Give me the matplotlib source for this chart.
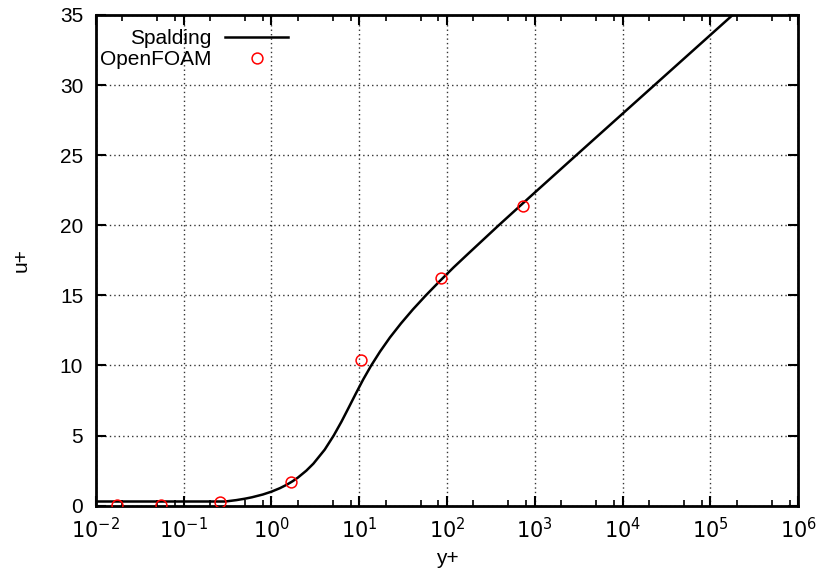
import matplotlib.pyplot as plt
from matplotlib.ticker import LogLocator, FixedLocator, NullFormatter

plt.rcParams['font.family'] = ['Liberation Sans', 'DejaVu Sans']

# Spalding law of the wall
spalding_yplus = [0.01, 0.3, 0.4, 0.5, 0.6, 0.8, 1.0, 1.25, 1.5, 1.75, 2.0, 2.5, 3.01,
                  4.05, 5.12, 6.29, 7.6, 9.16, 11.1, 13.7, 17.3, 22.4, 29.9, 40.9,
                  57.4, 82.1, 119, 176, 388, 871, 2966, 10144, 34711, 118784, 178991]
spalding_uplus = [0.3, 0.3, 0.4, 0.5, 0.6, 0.8, 1.0, 1.25, 1.5, 1.75, 2.0, 2.5, 3.0,
                  4.0, 5.0, 6.0, 7.0, 8.0, 9.0, 10.0, 11.0, 12.0, 13.0, 14.0,
                  15.0, 16.0, 17.0, 18.0, 20.0, 22.0, 25.0, 28.0, 31.0, 34.0, 35.0]

# OpenFOAM results
foam_yplus = [0.0175, 0.055, 0.258, 1.68, 10.5, 84.5, 735]
foam_uplus = [0.02, 0.02, 0.26, 1.66, 10.36, 16.27, 21.36]

xtick_vals = [1e-2, 1e-1, 1e0, 1e1, 1e2, 1e3, 1e4, 1e5, 1e6]
xtick_labels = ['$10^{-2}$', '$10^{-1}$', '$10^{0}$', '$10^{1}$', '$10^{2}$',
                '$10^{3}$', '$10^{4}$', '$10^{5}$', '$10^{6}$']
ytick_vals = [0, 5, 10, 15, 20, 25, 30, 35]

fs = 15

fig = plt.figure(figsize=(8.19, 5.72), dpi=100)
ax = fig.add_axes([0.1169, 0.1159, 0.8578, 0.8579])

ax.plot(spalding_yplus, spalding_uplus, color='black', lw=1.8, label='Spalding', zorder=3)
ax.plot(foam_yplus, foam_uplus, ls='none', marker='o', ms=7.8, mfc='none',
        mec='red', mew=1.1, label='OpenFOAM', zorder=4)

ax.set_xscale('log')
ax.set_xlim(1e-2, 1e6)
ax.set_ylim(0, 35)
ax.set_xticks(xtick_vals)
ax.set_xticklabels(xtick_labels)
ax.xaxis.set_minor_locator(LogLocator(base=10, subs=(2, 5, 8), numticks=20))
ax.xaxis.set_minor_formatter(NullFormatter())
ax.yaxis.set_major_locator(FixedLocator(ytick_vals))

ax.tick_params(which='both', direction='in', top=True, right=True, labelsize=fs)
ax.tick_params(axis='y', pad=9)
ax.tick_params(axis='x', pad=8)
ax.tick_params(which='major', length=7, width=1.5)
ax.tick_params(which='minor', length=4, width=1.2)
for s in ax.spines.values():
    s.set_linewidth(2)

ax.grid(True, which='major', ls=(0, (1, 2.2)), color='black', lw=1.0, alpha=0.8)

ax.set_xlabel('y+', fontsize=fs, labelpad=5)
ax.set_ylabel('u+', fontsize=fs, labelpad=21)

ax.legend(loc='upper right', frameon=False, markerfirst=False, fontsize=fs,
          handlelength=3.0, handletextpad=0.67, borderaxespad=0, borderpad=0,
          labelspacing=0.1, bbox_to_anchor=(0.2735, 0.971))

fig.savefig('out.png', dpi=100)
